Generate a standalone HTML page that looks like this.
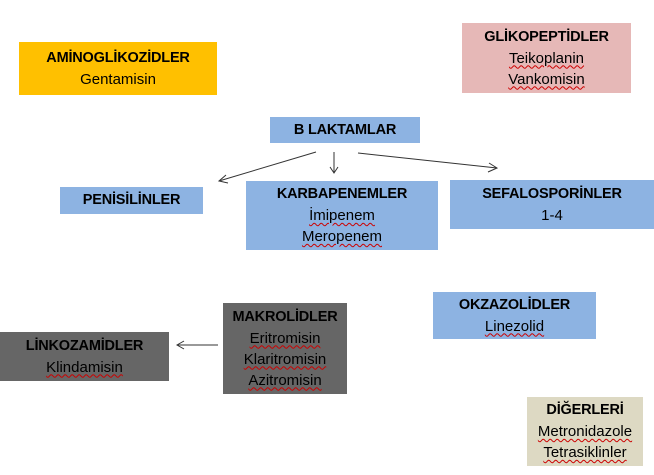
<!DOCTYPE html>
<html><head><meta charset="utf-8"><style>
body{margin:0;width:654px;height:475px;background:#fff;position:relative;overflow:hidden;font-family:"Liberation Sans",sans-serif;font-size:15px;color:#000}
.b{position:absolute;display:flex;flex-direction:column;justify-content:center;align-items:center;line-height:21px;text-align:center}
.b b{font-size:14.5px;letter-spacing:-0.2px}
.u{text-decoration:underline wavy #c00;text-decoration-thickness:1px;text-underline-offset:2px}
.bl{background:#8db3e2}
.gr{background:#666666}
svg{position:absolute;left:0;top:0}
</style></head><body>
<div class="b" style="left:19px;top:42px;width:198px;height:53px;background:#ffc000"><b>AMİNOGLİKOZİDLER</b><span>Gentamisin</span></div>
<div class="b" style="left:462px;top:23px;width:169px;height:70px;background:#e6b8b7"><b>GLİKOPEPTİDLER</b><span class="u">Teikoplanin</span><span class="u">Vankomisin</span></div>
<div class="b bl" style="left:270px;top:117px;width:150px;height:26px"><b>B LAKTAMLAR</b></div>
<div class="b bl" style="left:60px;top:187px;width:143px;height:27px"><b>PENİSİLİNLER</b></div>
<div class="b bl" style="left:246px;top:181px;width:192px;height:69px"><b>KARBAPENEMLER</b><span class="u">İmipenem</span><span class="u">Meropenem</span></div>
<div class="b bl" style="left:450px;top:180px;width:204px;height:49px"><b>SEFALOSPORİNLER</b><span>1-4</span></div>
<div class="b bl" style="left:433px;top:292px;width:163px;height:47px"><b>OKZAZOLİDLER</b><span class="u">Linezolid</span></div>
<div class="b gr" style="left:223px;top:303px;width:124px;height:91px"><b>MAKROLİDLER</b><span class="u">Eritromisin</span><span class="u">Klaritromisin</span><span class="u">Azitromisin</span></div>
<div class="b gr" style="left:0;top:332px;width:169px;height:49px"><b>LİNKOZAMİDLER</b><span class="u">Klindamisin</span></div>
<div class="b" style="left:527px;top:397px;width:116px;height:69px;background:#ddd9c3"><b>DİĞERLERİ</b><span class="u">Metronidazole</span><span class="u">Tetrasiklinler</span></div>
<svg width="654" height="475">
<g stroke="#333" stroke-width="1" fill="none">
<line x1="316" y1="152" x2="219" y2="181"/><polyline points="226,175 219,181 228,183"/>
<line x1="334" y1="152" x2="334" y2="173"/><polyline points="330,167 334,173 338,167"/>
<line x1="358" y1="153" x2="497" y2="168"/><polyline points="489,163 497,168 488,172"/>
<line x1="218" y1="345" x2="177" y2="345"/><polyline points="184,341 177,345 184,349"/>
</g></svg>
</body></html>
